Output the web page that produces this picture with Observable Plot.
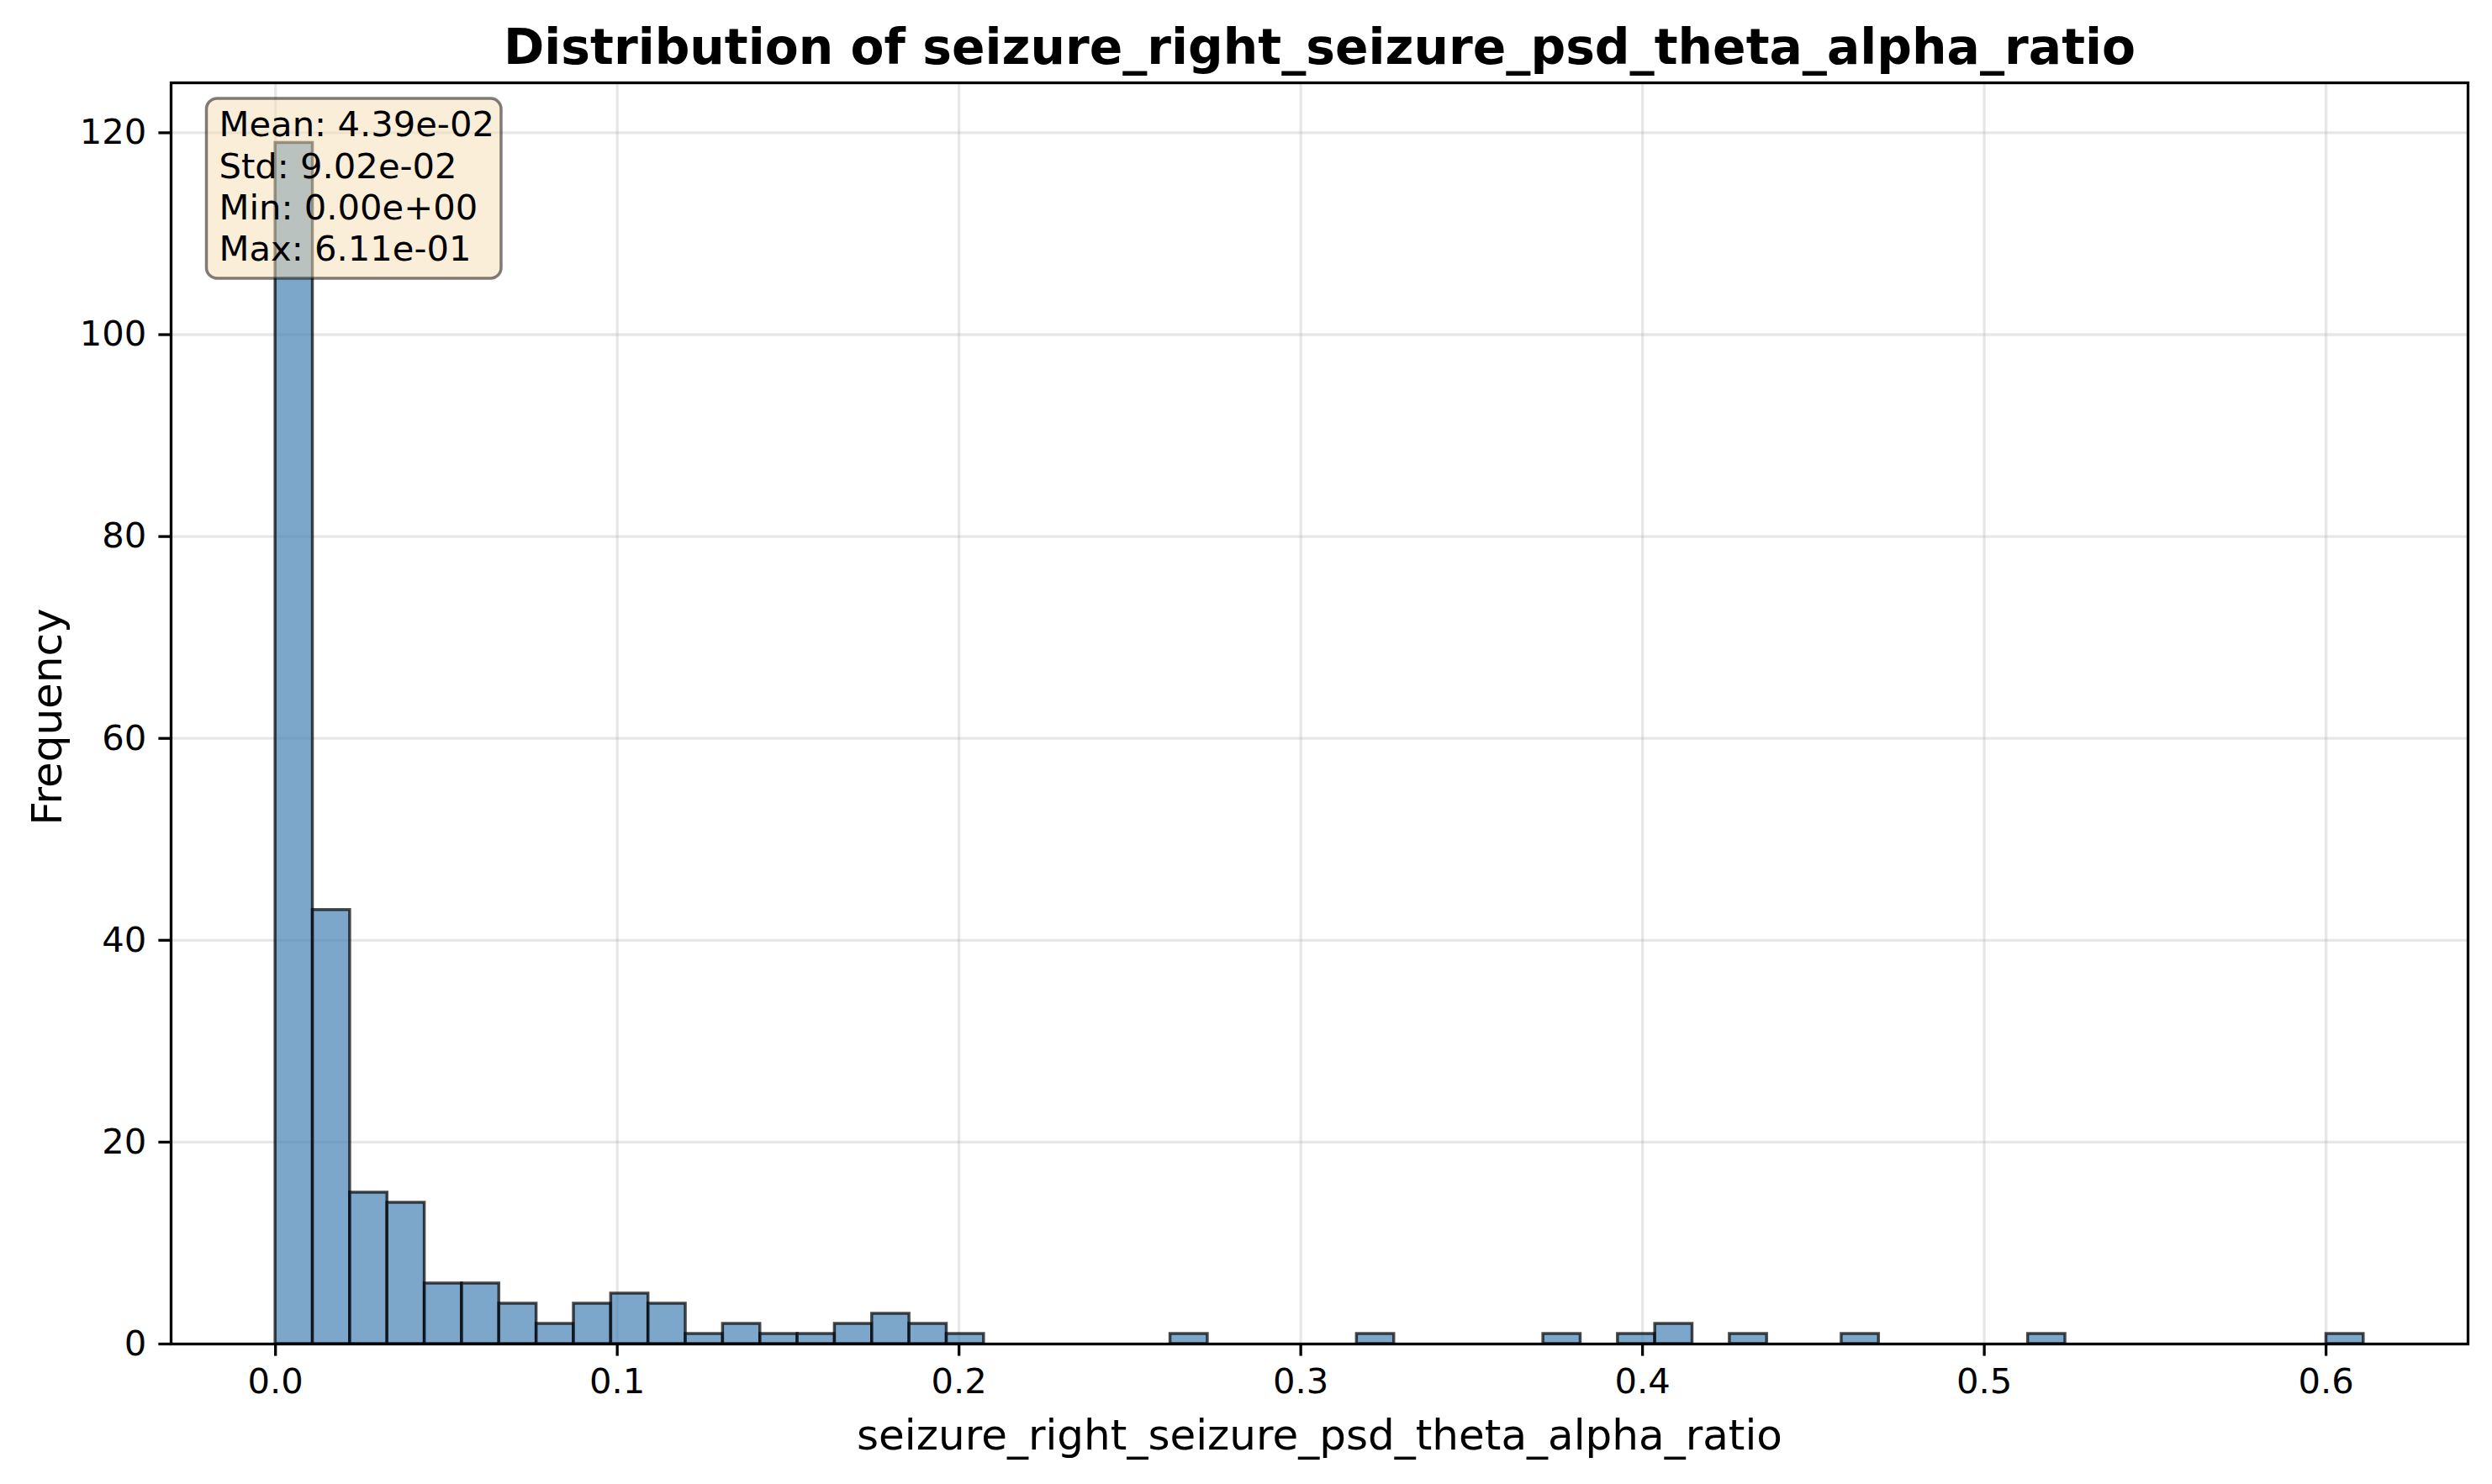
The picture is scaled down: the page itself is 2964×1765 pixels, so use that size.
<!DOCTYPE html>
<html>
<head>
<meta charset="utf-8">
<script src="https://cdn.jsdelivr.net/npm/d3@7"></script>
<script src="https://cdn.jsdelivr.net/npm/@observablehq/plot@0.6"></script>
<style>
  html, body { margin: 0; padding: 0; background: #ffffff; }
  #chart svg { display: block; }
</style>
</head>
<body>
<div id="chart"></div>
<script>
// ---- data ----
const featureName = "seizure_right_seizure_psd_theta_alpha_ratio";
const chartTitle = "Distribution of seizure_right_seizure_psd_theta_alpha_ratio";
const yLabel = "Frequency";
const rangeMin = 0.0;
const rangeMax = 0.611;
// 56 equal-width bins between rangeMin and rangeMax
const binCounts = [
  119, 43, 15, 14, 6, 6, 4, 2, 4, 5,
  4, 1, 2, 1, 1, 2, 3, 2, 1, 0,
  0, 0, 0, 0, 1, 0, 0, 0, 0, 1,
  0, 0, 0, 0, 1, 0, 1, 2, 0, 1,
  0, 0, 1, 0, 0, 0, 0, 1, 0, 0,
  0, 0, 0, 0, 0, 1
];
const xTicks = [0.0, 0.1, 0.2, 0.3, 0.4, 0.5, 0.6];
const yTicks = [0, 20, 40, 60, 80, 100, 120];
const statLabels = ["Mean", "Std", "Min", "Max"];
const statValues = ["4.39e-02", "9.02e-02", "0.00e+00", "6.11e-01"];

// ---- derived table ----
const binWidth = (rangeMax - rangeMin) / binCounts.length;
const bins = binCounts
  .map((c, i) => ({x1: rangeMin + i * binWidth, x2: rangeMin + (i + 1) * binWidth, count: c}))
  .filter(d => d.count > 0);
const statsText = statLabels.map((l, i) => `${l}: ${statValues[i]}`).join("\n");
const xPad = 0.05 * (rangeMax - rangeMin);
const yMax = 1.05 * d3.max(binCounts);

// ---- layout ----
const W = 2964, H = 1765;
const mL = 203, mR = 29, mT = 98, mB = 167;
const tickFont = 41.7, labelFont = 50, titleFont = 58.3;

function statsBox(index, scales, values, dimensions) {
  const ns = "http://www.w3.org/2000/svg";
  const g = document.createElementNS(ns, "g");
  const r = document.createElementNS(ns, "rect");
  r.setAttribute("x", dimensions.marginLeft + 42.5);
  r.setAttribute("y", dimensions.marginTop + 19);
  r.setAttribute("width", 350.5);
  r.setAttribute("height", 214);
  r.setAttribute("rx", 12.5);
  r.setAttribute("ry", 12.5);
  r.setAttribute("fill", "wheat");
  r.setAttribute("fill-opacity", 0.5);
  r.setAttribute("stroke", "black");
  r.setAttribute("stroke-opacity", 0.5);
  r.setAttribute("stroke-width", 3.5);
  g.appendChild(r);
  return g;
}

const chart = Plot.plot({
  width: W,
  height: H,
  marginLeft: mL,
  marginRight: mR,
  marginTop: mT,
  marginBottom: mB,
  style: {fontFamily: "DejaVu Sans", fontSize: tickFont + "px", background: "#ffffff", color: "black", overflow: "visible"},
  x: {domain: [rangeMin - xPad, rangeMax + xPad]},
  y: {domain: [0, yMax]},
  marks: [
    Plot.gridX(xTicks, {stroke: "#b0b0b0", strokeOpacity: 0.3, strokeWidth: 3.3}),
    Plot.gridY(yTicks, {stroke: "#b0b0b0", strokeOpacity: 0.3, strokeWidth: 3.3}),
    Plot.rectY(bins, {
      x1: "x1", x2: "x2", y: "count",
      fill: "steelblue", fillOpacity: 0.7,
      stroke: "black", strokeOpacity: 0.7, strokeWidth: 3.5
    }),
    Plot.axisX(xTicks, {
      tickFormat: d3.format(".1f"), tickSize: 14.6, tickPadding: 14.6,
      strokeWidth: 3.3, fontSize: tickFont, label: null, fill: "black", stroke: "black"
    }),
    Plot.axisY(yTicks, {
      tickFormat: d => String(d), tickSize: 14.6, tickPadding: 14.6,
      strokeWidth: 3.3, fontSize: tickFont, label: null, fill: "black", stroke: "black"
    }),
    Plot.frame({stroke: "black", strokeWidth: 3.3}),
    statsBox,
    Plot.text([statsText], {
      frameAnchor: "top-left", dx: 57, dy: 29, lineAnchor: "top", lineHeight: 1.18,
      textAnchor: "start", fontSize: tickFont, fill: "black"
    }),
    Plot.text([chartTitle], {
      frameAnchor: "top", dy: -23, lineAnchor: "bottom",
      fontSize: titleFont, fontWeight: "bold", fill: "black"
    }),
    Plot.text([featureName], {
      frameAnchor: "bottom", dy: 125, lineAnchor: "bottom",
      fontSize: labelFont, fill: "black"
    }),
    Plot.text([yLabel], {
      frameAnchor: "left", dx: -130.3, dy: 4, rotate: -90, lineAnchor: "bottom",
      textAnchor: "middle", fontSize: labelFont, fill: "black"
    })
  ]
});

document.getElementById("chart").appendChild(chart);
</script>
</body>
</html>
